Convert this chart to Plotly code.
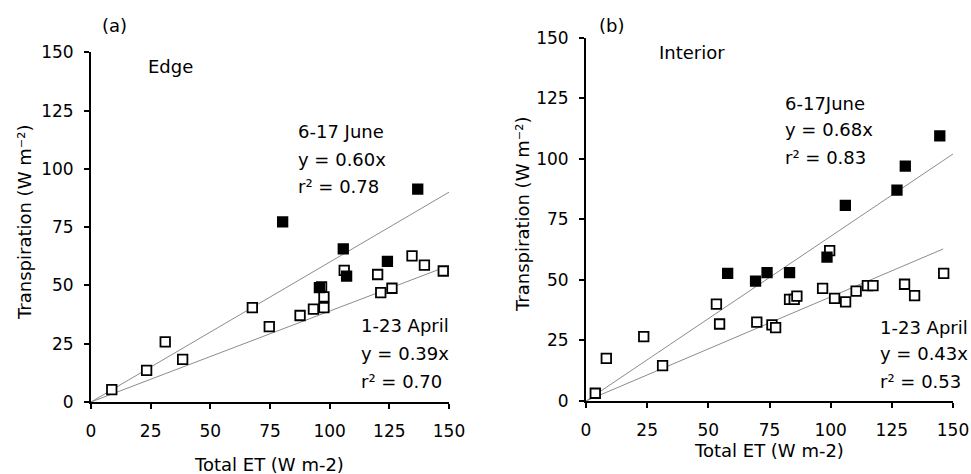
import plotly.graph_objects as go

W, H = 971, 474

# ---- Data: panel (a) Edge ----
a_june_x = [80.3, 136.9, 105.7, 124.2, 107.1, 95.7]
a_june_y = [77.3, 91.3, 65.7, 60.3, 54.0, 49.1]
a_apr_x = [8.7, 23.3, 31.1, 38.4, 67.6, 74.7, 87.6, 93.2, 97.6, 97.6, 96.6,
           106.1, 120.1, 121.4, 126.1, 134.5, 139.7, 147.6]
a_apr_y = [5.3, 13.6, 25.8, 18.3, 40.5, 32.3, 37.1, 39.8, 40.5, 45.1, 49.4,
           56.5, 54.7, 46.9, 48.8, 62.7, 58.7, 56.2]
a_june_slope, a_apr_slope = 0.60, 0.39
a_june_line_x = [0, 150]
a_apr_line_x = [0, 150]

# ---- Data: panel (b) Interior ----
b_june_x = [57.9, 69.3, 74.0, 83.2, 98.5, 106.0, 127.1, 130.5, 144.6]
b_june_y = [52.7, 49.5, 53.0, 53.0, 59.4, 80.8, 87.1, 97.0, 109.5]
b_apr_x = [3.8, 8.3, 23.6, 31.3, 53.3, 54.6, 69.8, 76.0, 77.5, 83.2, 85.1,
           86.2, 96.7, 99.6, 101.6, 106.1, 110.4, 115.0, 117.3, 130.2, 134.3, 146.2]
b_apr_y = [3.2, 17.6, 26.6, 14.6, 40.0, 31.8, 32.6, 31.4, 30.3, 42.0, 42.0,
           43.3, 46.5, 62.1, 42.4, 40.9, 45.4, 47.6, 47.6, 48.2, 43.5, 52.7]
b_june_slope, b_apr_slope = 0.68, 0.43
b_june_line_x = [0, 150]
b_apr_line_x = [0, 146]

tick_vals = [0, 25, 50, 75, 100, 125, 150]
tick_text = ["0", "25", "50", "75", "100", "125", "150"]

FONT = "DejaVu Sans, Liberation Sans, Arial, sans-serif"
FS_TICK = 17
FS = 18

fig = go.Figure()

def add_panel(xa, ya, jx, jy, ax, ay, js, as_, jlx, alx):
    fig.add_trace(go.Scatter(x=jlx, y=[js * v for v in jlx], mode="lines",
                             line=dict(color="#8c8c8c", width=1),
                             xaxis=xa, yaxis=ya, showlegend=False, hoverinfo="skip"))
    fig.add_trace(go.Scatter(x=alx, y=[as_ * v for v in alx], mode="lines",
                             line=dict(color="#8c8c8c", width=1),
                             xaxis=xa, yaxis=ya, showlegend=False, hoverinfo="skip"))
    fig.add_trace(go.Scatter(x=ax, y=ay, mode="markers",
                             marker=dict(symbol="square", size=9.5, color="white",
                                         line=dict(color="black", width=1.8)),
                             xaxis=xa, yaxis=ya, showlegend=False, cliponaxis=False))
    fig.add_trace(go.Scatter(x=jx, y=jy, mode="markers",
                             marker=dict(symbol="square", size=9.5, color="black",
                                         line=dict(color="black", width=1.8)),
                             xaxis=xa, yaxis=ya, showlegend=False, cliponaxis=False))

add_panel("x", "y", a_june_x, a_june_y, a_apr_x, a_apr_y,
          a_june_slope, a_apr_slope, a_june_line_x, a_apr_line_x)
add_panel("x2", "y2", b_june_x, b_june_y, b_apr_x, b_apr_y,
          b_june_slope, b_apr_slope, b_june_line_x, b_apr_line_x)

axis_common = dict(range=[0, 150], tickvals=tick_vals, ticktext=tick_text,
                   showline=True, linecolor="black", linewidth=2,
                   ticks="outside", ticklen=5, tickwidth=2, tickcolor="black",
                   showgrid=False, zeroline=False, automargin=False,
                   tickfont=dict(family=FONT, size=FS_TICK, color="black"))

def px_x(p):
    return p / W

def px_y(p):
    return 1 - p / H

fig.update_layout(
    width=W, height=H,
    margin=dict(l=0, r=0, t=0, b=0, pad=0, autoexpand=False),
    showlegend=False,
    paper_bgcolor="white", plot_bgcolor="white",
    font=dict(family=FONT, size=FS, color="black"),
    xaxis=dict(domain=[px_x(91), px_x(449)], anchor="y", ticklabelstandoff=8, **axis_common),
    yaxis=dict(domain=[px_y(402), px_y(52.3)], anchor="x", ticklabelstandoff=7, **axis_common),
    xaxis2=dict(domain=[px_x(586), px_x(953)], anchor="y2", ticklabelstandoff=8, **axis_common),
    yaxis2=dict(domain=[px_y(401), px_y(37.7)], anchor="x2", ticklabelstandoff=7, **axis_common),
)

def txt(text, x, y, xanchor="left", angle=0):
    fig.add_annotation(text=text, x=px_x(x), y=px_y(y), xref="paper", yref="paper",
                       xanchor=xanchor, yanchor="middle", showarrow=False,
                       textangle=angle, font=dict(family=FONT, size=FS, color="black"))

# panel (a) texts
txt("(a)", 100, 25)
txt("Edge", 146, 67)
txt("6-17 June", 296, 131)
txt("y = 0.60x", 296, 159)
txt("r² = 0.78", 296, 187)
txt("1-23 April", 359, 325)
txt("y = 0.39x", 359, 353)
txt("r² = 0.70", 359, 381)
txt("Transpiration (W m⁻²)", 24, 223, xanchor="center", angle=-90)
txt("Total ET (W m-2)", 269, 464, xanchor="center")

# panel (b) texts
txt("(b)", 597, 25)
txt("Interior", 657, 53)
txt("6-17June", 783, 103)
txt("y = 0.68x", 783, 129)
txt("r² = 0.83", 783, 157)
txt("1-23 April", 878, 327)
txt("y = 0.43x", 878, 353)
txt("r² = 0.53", 878, 381)
txt("Transpiration (W m⁻²)", 522, 215, xanchor="center", angle=-90)
txt("Total ET (W m-2)", 769, 450, xanchor="center")

fig.write_html("out.html", config={"displayModeBar": False},
               post_script="document.body.style.margin='0';")
